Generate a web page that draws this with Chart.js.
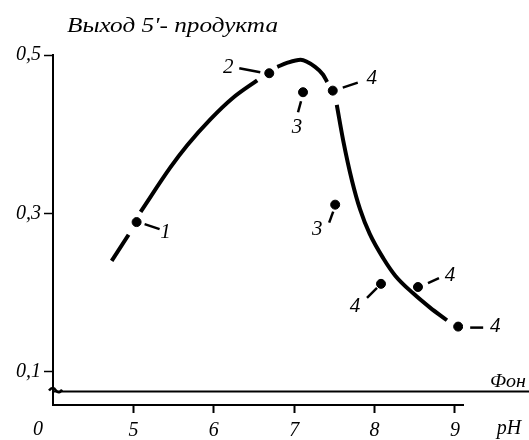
<!DOCTYPE html>
<html>
<head>
<meta charset="utf-8">
<script src="https://cdn.jsdelivr.net/npm/chart.js@4.4.1/dist/chart.umd.min.js"></script>
<style>
  html, body { margin: 0; padding: 0; background: #fff; }
  #wrap { width: 529px; height: 440px; }
</style>
</head>
<body>
<div id="wrap"><canvas id="chart" width="529" height="440"></canvas></div>
<script>
// кривая выхода продукта (null = разрыв у точек)
const curvePH    = [4.73, 4.94, 5.04, 5.09, 5.46, 5.67, 5.96, 6.24, 6.54, 6.69, 6.79, 6.91, 7.08, 7.26, 7.36, 7.41, 7.48, 7.53, 7.61, 7.72, 7.82, 7.94, 8.11, 8.26, 8.48, 8.69, 8.90]
const curveYield = [0.240, 0.273, null, 0.302, 0.358, 0.386, 0.419, 0.446, 0.468, null, 0.485, 0.490, 0.494, 0.485, 0.475, 0.466, null, 0.437, 0.392, 0.341, 0.305, 0.274, 0.243, 0.221, 0.199, 0.181, 0.165]

// отдельные экспериментальные точки
const pointPH     = [5.04, 6.69, 7.11, 7.48, 7.51, 8.08, 8.54, 9.04]
const pointYield  = [0.289, 0.477, 0.453, 0.455, 0.311, 0.211, 0.207, 0.157]
const pointLabels = ["1", "2", "3", "4", "3", "4", "4", "4"]

const xTicks = [5, 6, 7, 8, 9]
const yTicks = [0.1, 0.3, 0.5]
const fonLevel = 0.075

const serif = "'Liberation Serif', 'DejaVu Serif', serif"

// смещения подписей и черточек от точек (в пикселях)
const labelOffsets = [
  { dash: [8, 2, 23, 7], text: [29, 10] },
  { dash: [-30, -5, -9, -1], text: [-41, -6] },
  { dash: [-2, 9, -5, 20], text: [-6, 35] },
  { dash: [10, -3, 25, -8], text: [39, -12] },
  { dash: [-2, 7, -6, 18], text: [-18, 25] },
  { dash: [-4, 4, -14, 14], text: [-26, 23] },
  { dash: [10, -4, 21, -9], text: [32, -12] },
  { dash: [12, 1, 25, 1], text: [37, 0] }
]

// текст, растянутый по ширине (шрифт скана шире)
function wideText(ctx, str, x, y, width) {
  const w = ctx.measureText(str).width
  ctx.save()
  ctx.translate(x, y)
  ctx.scale(width / w, 1)
  ctx.fillText(str, 0, 0)
  ctx.restore()
}

const extras = {
  id: "extras",
  afterDraw(chart) {
    const ctx = chart.ctx
    const x = chart.scales.x
    const y = chart.scales.y
    ctx.save()
    ctx.fillStyle = "#000"
    ctx.strokeStyle = "#000"

    // заголовок оси
    ctx.font = "italic 20px " + serif
    ctx.textAlign = "left"
    ctx.textBaseline = "alphabetic"
    wideText(ctx, "Выход 5'- продукта", 67, 32, 211)

    // линия фона
    const fy = y.getPixelForValue(fonLevel)
    ctx.lineWidth = 2
    ctx.beginPath()
    ctx.moveTo(x.left, fy)
    ctx.lineTo(529, fy)
    ctx.stroke()
    ctx.font = "italic 19px " + serif
    wideText(ctx, "Фон", 490, fy - 5, 36)

    // знак разрыва оси
    ctx.lineWidth = 2.5
    ctx.beginPath()
    ctx.moveTo(x.left - 4, fy - 1)
    ctx.quadraticCurveTo(x.left, fy - 6, x.left + 3, fy - 1)
    ctx.quadraticCurveTo(x.left + 6, fy + 3, x.left + 9, fy - 2)
    ctx.stroke()

    // "0" и "pH" под осью
    ctx.font = "italic 20px " + serif
    ctx.textAlign = "center"
    ctx.textBaseline = "middle"
    ctx.fillText("0", 38, 430)
    ctx.fillText("pH", 509, 429)

    // подписи точек
    ctx.lineWidth = 2.5
    ctx.font = "italic 21px " + serif
    pointPH.forEach((p, i) => {
      const px = x.getPixelForValue(p)
      const py = y.getPixelForValue(pointYield[i])
      const o = labelOffsets[i]
      ctx.beginPath()
      ctx.moveTo(px + o.dash[0], py + o.dash[1])
      ctx.lineTo(px + o.dash[2], py + o.dash[3])
      ctx.stroke()
      ctx.fillText(pointLabels[i], px + o.text[0], py + o.text[1])
    })
    ctx.restore()
  }
}

new Chart(document.getElementById("chart"), {
  type: "scatter",
  data: {
    datasets: [
      {
        data: curvePH.map((p, i) => ({ x: p, y: curveYield[i] })),
        showLine: true,
        spanGaps: false,
        borderColor: "#000",
        borderWidth: 4,
        cubicInterpolationMode: "monotone",
        pointRadius: 0
      },
      {
        data: pointPH.map((p, i) => ({ x: p, y: pointYield[i] })),
        showLine: false,
        pointRadius: 4.5,
        pointBackgroundColor: "#000",
        pointBorderColor: "#000"
      }
    ]
  },
  options: {
    responsive: false,
    animation: false,
    layout: { padding: { top: 55, right: 66, left: 0, bottom: 0 } },
    plugins: { legend: { display: false }, tooltip: { enabled: false } },
    scales: {
      x: {
        type: "linear",
        min: 4,
        max: 9.1,
        afterBuildTicks: s => { s.ticks = xTicks.map(v => ({ value: v })) },
        afterFit: s => { s.height = 35 },
        ticks: {
          color: "#000",
          padding: 6,
          font: { family: serif, size: 20, style: "italic" },
          callback: v => String(v)
        },
        grid: { drawOnChartArea: false, drawTicks: true, tickLength: 8, tickWidth: 2, color: "#000" },
        border: { display: true, color: "#000", width: 2 }
      },
      y: {
        min: 0.058,
        max: 0.5,
        afterBuildTicks: s => { s.ticks = yTicks.map(v => ({ value: v })) },
        afterFit: s => { s.width = 53 },
        ticks: {
          color: "#000",
          padding: 3,
          font: { family: serif, size: 20, style: "italic" },
          callback: v => v.toFixed(1).replace(".", ",")
        },
        grid: { drawOnChartArea: false, drawTicks: true, tickLength: 9, tickWidth: 1.5, color: "#000" },
        border: { display: true, color: "#000", width: 2 }
      }
    }
  },
  plugins: [extras]
})
</script>
</body>
</html>
